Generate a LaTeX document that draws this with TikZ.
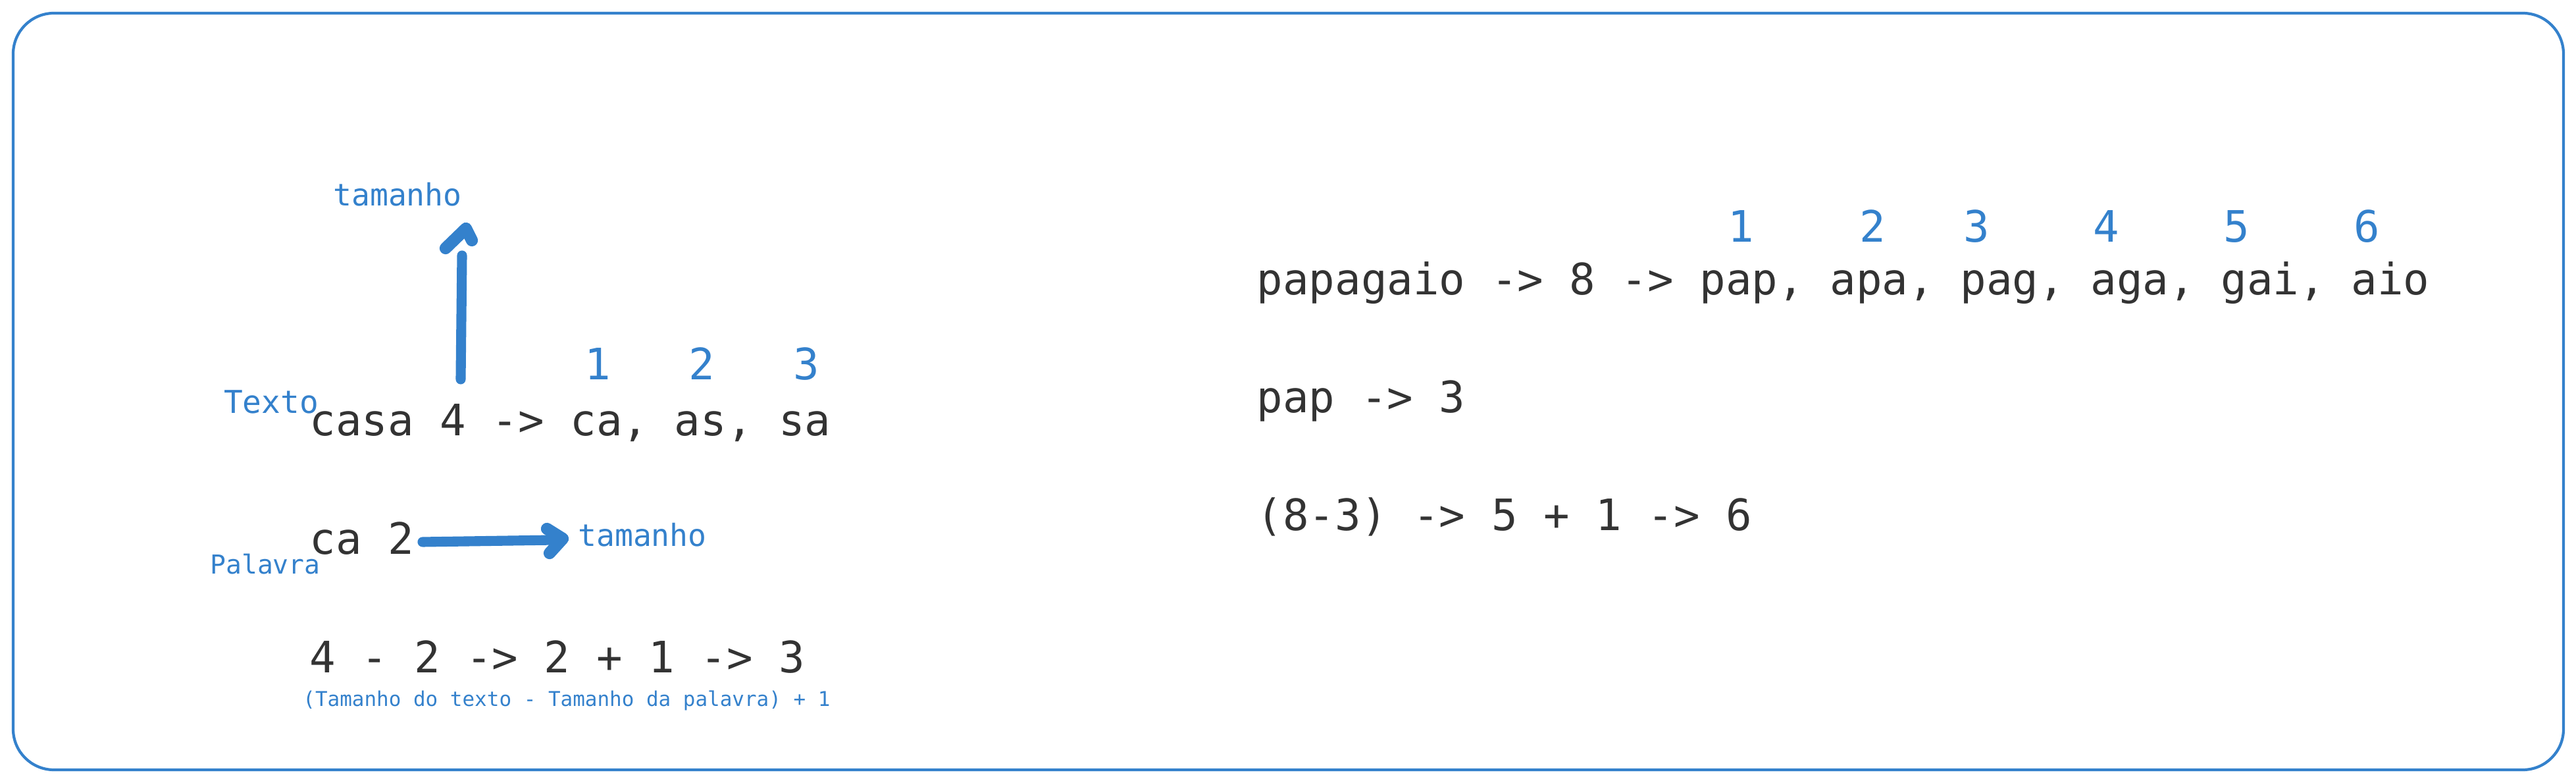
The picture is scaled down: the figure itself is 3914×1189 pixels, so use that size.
\documentclass[tikz,border=0pt]{standalone}
\usepackage{fontspec}
\newfontfamily\handfont{DejaVu Sans Mono}
\definecolor{inkc}{HTML}{333333}
\definecolor{bluec}{HTML}{3481CC}
\tikzset{
  px/.style={x=0.01cm,y=-0.01cm},
  maintxt/.style={inner sep=0pt, anchor=base west, text=inkc, font=\handfont\fontsize{18.7}{22}\selectfont},
  numtxt/.style={inner sep=0pt, anchor=base, text=bluec, font=\handfont\fontsize{18.7}{22}\selectfont},
  labtxt/.style={inner sep=0pt, anchor=base, text=bluec, font=\handfont\fontsize{13.2}{16}\selectfont},
  smalltxt/.style={inner sep=0pt, anchor=base, text=bluec, font=\handfont\fontsize{8.8}{11}\selectfont},
  frame/.style={draw=bluec, line width=1.2pt, rounded corners=17.6pt},
  shaft/.style={draw=bluec, line width=4.3pt, line cap=round},
  barb/.style={draw=bluec, line width=5.2pt, line cap=round, line join=round},
}
\begin{document}
\begin{tikzpicture}[px]
\useasboundingbox (0,0) rectangle (3914,1189);
\draw[frame] (20,20) rectangle (3895,1169);

% left column
\node[maintxt] (casa) at (470,662) {casa 4 -> ca, as, sa};
\node[maintxt] (ca) at (470,842) {ca 2};
\node[maintxt] (calcA) at (470,1022) {4 - 2 -> 2 + 1 -> 3};
\node[numtxt] (a1) at (908,577) {1};
\node[numtxt] (a2) at (1066,577) {2};
\node[numtxt] (a3) at (1225,577) {3};
\node[labtxt, font=\handfont\fontsize{13.6}{16}\selectfont] (texto) at (412,628) {Texto};
\node[labtxt] (tamA) at (604,313) {tamanho};
\node[labtxt] (tamB) at (976,830) {tamanho};
\node[labtxt, font=\handfont\fontsize{11.3}{14}\selectfont] (palavra) at (403,872) {Palavra};
\node[smalltxt] (formula) at (861,1073) {(Tamanho do texto - Tamanho da palavra) + 1};

% up arrow
\coordinate (upS) at (700,576);
\coordinate (upE) at (702,388);
\coordinate (upT) at (708,347);
\coordinate (upL) at (677,377);
\coordinate (upR) at (717,365);
\draw[shaft] (upS) -- (upE);
\draw[barb] (upL) -- (upT) -- (upR);

% right arrow
\coordinate (hS) at (642,823);
\coordinate (hE) at (843,820);
\coordinate (hT) at (855,818);
\coordinate (hU) at (831,803);
\coordinate (hD) at (835,840);
\draw[shaft] (hS) -- (hE);
\draw[barb] (hU) -- (hT) -- (hD);

% right column
\node[maintxt] (papagaio) at (1909,448) {papagaio -> 8 -> pap, apa, pag, aga, gai, aio};
\node[maintxt] (pap) at (1909,627) {pap -> 3};
\node[maintxt] (calcB) at (1909,806) {(8-3) -> 5 + 1 -> 6};
\node[numtxt] (b1) at (2645,368) {1};
\node[numtxt] (b2) at (2845,368) {2};
\node[numtxt] (b3) at (3003,368) {3};
\node[numtxt] (b4) at (3200,368) {4};
\node[numtxt] (b5) at (3398,368) {5};
\node[numtxt] (b6) at (3596,368) {6};
\end{tikzpicture}
\end{document}
